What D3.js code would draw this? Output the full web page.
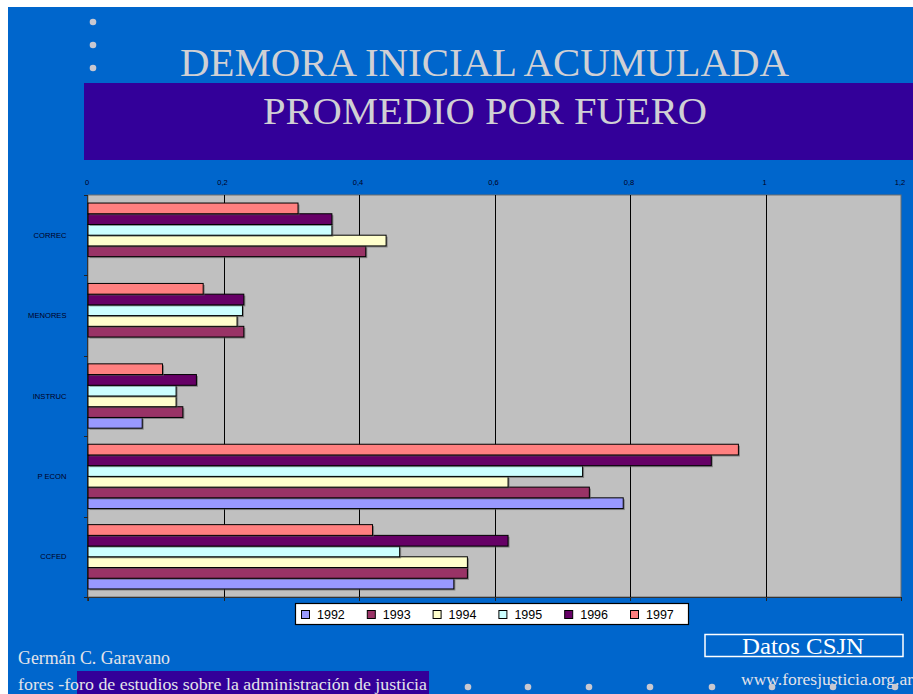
<!DOCTYPE html>
<html><head><meta charset="utf-8">
<script src="https://cdn.jsdelivr.net/npm/d3@7"></script>
<style>html,body{margin:0;padding:0;background:#fff;overflow:hidden}</style>
</head><body>
<svg id="c" width="913" height="694"></svg>
<script>
const categories = ["CORREC", "MENORES", "INSTRUC", "P ECON", "CCFED"];
const years = ["1992", "1993", "1994", "1995", "1996", "1997"];
const colors = ["#9999ff", "#993366", "#ffffcc", "#ccffff", "#660066", "#ff8080"];
const v1992 = [null, null, 0.08, 0.79, 0.54];
const v1993 = [0.41, 0.23, 0.14, 0.74, 0.56];
const v1994 = [0.44, 0.22, 0.13, 0.62, 0.56];
const v1995 = [0.36, 0.228, 0.13, 0.73, 0.46];
const v1996 = [0.36, 0.23, 0.16, 0.92, 0.62];
const v1997 = [0.31, 0.17, 0.11, 0.96, 0.42];
const series = [v1992, v1993, v1994, v1995, v1996, v1997];
const xTicks = [0, 0.2, 0.4, 0.6, 0.8, 1, 1.2];
const xTickLabels = ["0", "0,2", "0,4", "0,6", "0,8", "1", "1,2"];
const title1 = "DEMORA INICIAL ACUMULADA";
const title2 = "PROMEDIO POR FUERO";

const svg = d3.select("#c");
const serif = "'Liberation Serif','Times New Roman',serif";
const sans = "'Liberation Sans',Arial,sans-serif";

// background
svg.append("rect").attr("x", 8).attr("y", 7).attr("width", 905).attr("height", 687).attr("fill", "#0066cc");
svg.append("rect").attr("x", 84).attr("y", 83).attr("width", 829).attr("height", 77).attr("fill", "#330099");
[22, 45, 68].forEach(y => svg.append("circle").attr("cx", 93).attr("cy", y).attr("r", 3.3).attr("fill", "#c8c8d0"));

svg.append("text").attr("x", 180).attr("y", 76).attr("font-family", serif).attr("font-size", 39)
  .attr("fill", "#d0d0d4").attr("textLength", 609).attr("lengthAdjust", "spacingAndGlyphs").text(title1);
svg.append("text").attr("x", 263).attr("y", 124).attr("font-family", serif).attr("font-size", 38)
  .attr("fill", "#d0d0d4").attr("textLength", 444).attr("lengthAdjust", "spacingAndGlyphs").text(title2);

// chart
const L = 88, R = 901, T = 195, B = 597;
const x = d3.scaleLinear().domain([0, 1.2]).range([L, R]);
const y = d3.scaleBand().domain(categories).range([T, B]).padding(0);
const yi = d3.scaleBand().domain(years.slice().reverse()).range([0, y.bandwidth()]).paddingInner(0).paddingOuter(0.75);

svg.append("rect").attr("x", L).attr("y", T).attr("width", R - L).attr("height", B - T)
  .attr("fill", "#c0c0c0").attr("stroke", "#6f6f6f").attr("stroke-width", 1);

// gridlines
svg.append("g").selectAll("line").data(xTicks.slice(1, -1)).join("line")
  .attr("x1", d => Math.round(x(d)) + 0.5).attr("x2", d => Math.round(x(d)) + 0.5)
  .attr("y1", T).attr("y2", B).attr("stroke", "#000").attr("stroke-width", 1);

// top tick labels
svg.append("g").selectAll("text").data(xTicks).join("text")
  .attr("x", d => x(d) - 1).attr("y", 185).attr("text-anchor", "middle")
  .attr("font-family", sans).attr("font-size", 7.5).attr("fill", "#000022")
  .text((d, i) => xTickLabels[i]);

// bottom axis ticks
svg.append("g").selectAll("line").data(xTicks).join("line")
  .attr("x1", d => Math.round(x(d)) + 0.5).attr("x2", d => Math.round(x(d)) + 0.5)
  .attr("y1", B).attr("y2", B + 4).attr("stroke", "#222").attr("stroke-width", 1);
svg.append("line").attr("x1", L).attr("x2", R).attr("y1", B + 0.5).attr("y2", B + 0.5).attr("stroke", "#333");

// left axis
svg.append("line").attr("x1", L - 0.5).attr("x2", L - 0.5).attr("y1", T).attr("y2", B + 4).attr("stroke", "#333");
const bounds = categories.map(c => y(c)).concat([B]);
svg.append("g").selectAll("line").data(bounds).join("line")
  .attr("x1", L - 4).attr("x2", L).attr("y1", d => Math.round(d) + 0.5).attr("y2", d => Math.round(d) + 0.5)
  .attr("stroke", "#222");
svg.append("g").selectAll("text").data(categories).join("text")
  .attr("x", 66.5).attr("y", c => y(c) + y.bandwidth() / 2 + 2.5).attr("text-anchor", "end")
  .attr("font-family", sans).attr("font-size", 7.6).attr("fill", "#000022").text(c => c);

// bars
years.forEach((yr, si) => {
  const g = svg.append("g");
  const data = categories.map((c, ci) => ({ c, v: series[si][ci] })).filter(d => d.v != null);
  g.selectAll("rect.sh").data(data).join("rect")
    .attr("x", x(0) + 1.5).attr("y", d => y(d.c) + yi(yr) + 1.5)
    .attr("width", d => x(d.v) - x(0)).attr("height", yi.bandwidth())
    .attr("fill", "#555").attr("opacity", 0.6);
  g.selectAll("rect.b").data(data).join("rect")
    .attr("x", x(0)).attr("y", d => y(d.c) + yi(yr))
    .attr("width", d => x(d.v) - x(0)).attr("height", yi.bandwidth())
    .attr("fill", colors[si]).attr("stroke", "#000").attr("stroke-width", 1);
});

// legend
const lg = svg.append("g");
lg.append("rect").attr("x", 295.5).attr("y", 603.5).attr("width", 393).attr("height", 21)
  .attr("fill", "#fff").attr("stroke", "#000").attr("stroke-width", 1.2);
const lx = d3.scalePoint().domain(years).range([301, 630]);
years.forEach((yr, i) => {
  lg.append("rect").attr("x", lx(yr) + 0.5).attr("y", 610.5).attr("width", 8).attr("height", 8)
    .attr("fill", colors[i]).attr("stroke", "#000").attr("stroke-width", 1);
  lg.append("text").attr("x", lx(yr) + 16).attr("y", 619).attr("font-family", sans).attr("font-size", 12.5)
    .attr("fill", "#000").text(yr);
});

// footer
svg.append("text").attr("x", 18).attr("y", 663.5).attr("font-family", serif).attr("font-size", 18.5)
  .attr("fill", "#e4e4ea").attr("textLength", 152).attr("lengthAdjust", "spacingAndGlyphs").text("Germán C. Garavano");
svg.append("rect").attr("x", 77).attr("y", 671).attr("width", 352).attr("height", 23).attr("fill", "#330099");
svg.append("text").attr("x", 18).attr("y", 689.5).attr("font-family", serif).attr("font-size", 17.5)
  .attr("fill", "#e4e4ea").attr("textLength", 409).attr("lengthAdjust", "spacingAndGlyphs")
  .text("fores -foro de estudios sobre la administración de justicia");

svg.append("rect").attr("x", 705).attr("y", 634.5).attr("width", 198).attr("height", 22)
  .attr("fill", "none").attr("stroke", "#fff").attr("stroke-width", 1.5);
svg.append("text").attr("x", 742).attr("y", 653.5).attr("font-family", serif).attr("font-size", 23.5)
  .attr("fill", "#ffffff").attr("textLength", 122).attr("lengthAdjust", "spacingAndGlyphs").text("Datos CSJN");
svg.append("text").attr("x", 741).attr("y", 685).attr("font-family", serif).attr("font-size", 17.5)
  .attr("fill", "#e4e4ea").text("www.foresjusticia.org.ar");
[468, 528, 589, 650, 712, 772, 833, 895].forEach(cx =>
  svg.append("circle").attr("cx", cx).attr("cy", 687).attr("r", 3.3).attr("fill", "#c8c8d0"));
</script>
</body></html>
